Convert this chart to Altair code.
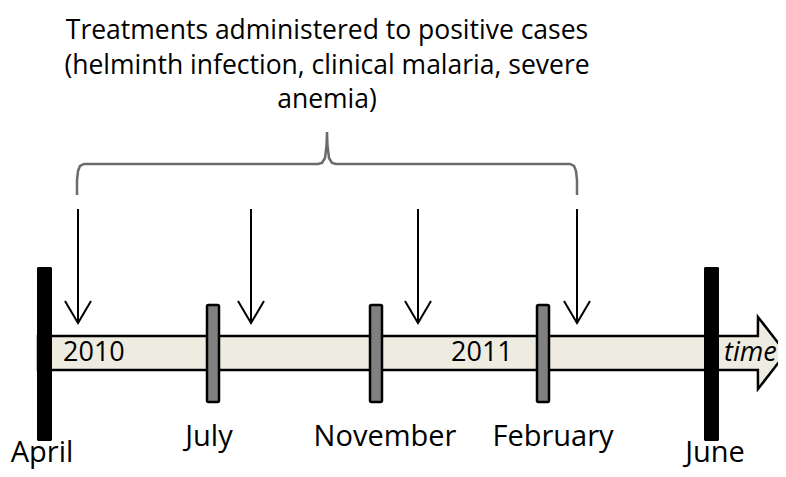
import altair as alt
import pandas as pd

# ---- diagram content ----
title_lines = ["Treatments  administered to positive cases",
               "(helminth infection, clinical malaria, severe",
               "anemia)"]
title_baselines = [39, 74, 108]
title_center = 327

periods = ["April", "July", "November", "February", "June"]
period_x = [44.5, 213, 376, 543, 711.5]
period_kind = ["major", "minor", "minor", "minor", "major"]
label_x = [42, 209, 385, 553, 715]
label_baseline = [462, 446, 446, 446, 462]

treatment_x = [78, 251, 418, 577]

years = ["2010", "2011"]
year_x = [63, 451]

# ---- geometry helpers (pixel-space diagram) ----
W, H = 770, 461
xs = alt.Scale(domain=[8, 8 + W], nice=False, zero=False)
ys = alt.Scale(domain=[8, 8 + H], nice=False, zero=False, reverse=True)

def X(f="x"):
    return alt.X(f"{f}:Q", scale=xs, axis=None)

def Y(f="y"):
    return alt.Y(f"{f}:Q", scale=ys, axis=None)

# brace
brace_pts = [(77, 195), (77, 180), (78, 171), (80, 166), (84, 164), (318, 164),
             (322, 163), (325, 158), (326.5, 146), (327, 132),
             (327.5, 146), (329, 158), (332, 163), (336, 164), (570, 164),
             (574, 166), (576, 171), (577, 180), (577, 195)]
brace_df = pd.DataFrame({"x": [p[0] for p in brace_pts],
                         "y": [p[1] for p in brace_pts],
                         "o": list(range(len(brace_pts)))})
brace = alt.Chart(brace_df).mark_line(color="#6b6b6b", strokeWidth=2.5, clip=False).encode(
    x=X(), y=Y(), order="o:Q")

# treatment arrows
rows = []
for i, tx in enumerate(treatment_x):
    rows += [{"x": tx, "y": 209, "g": f"s{i}", "o": 0}, {"x": tx, "y": 322, "g": f"s{i}", "o": 1}]
    rows += [{"x": tx - 13, "y": 301, "g": f"h{i}", "o": 0},
             {"x": tx, "y": 323, "g": f"h{i}", "o": 1},
             {"x": tx + 13, "y": 301, "g": f"h{i}", "o": 2}]
arrow_df = pd.DataFrame(rows)
arrows = alt.Chart(arrow_df).mark_line(color="black", strokeWidth=2, clip=False).encode(
    x=X(), y=Y(), detail="g:N", order="o:Q")

# time band with arrow head
band_df = pd.DataFrame({"x": [38, 757.9, 758, 786],
                        "y": [336, 336, 317, 353],
                        "y2": [370, 370, 389, 353]})
band = alt.Chart(band_df).mark_area(fill="#EEECE1", stroke="black", strokeWidth=2.5,
                                    clip=False, interpolate="linear").encode(
    x=X(), y=Y(), y2="y2:Q")

# period bars
bar_df = pd.DataFrame({"name": periods, "cx": period_x, "kind": period_kind})
bar_df["x"] = bar_df["cx"] - bar_df["kind"].map({"major": 7.5, "minor": 6})
bar_df["x2"] = bar_df["cx"] + bar_df["kind"].map({"major": 7.5, "minor": 6})
bar_df["y"] = bar_df["kind"].map({"major": 267, "minor": 305})
bar_df["y2"] = bar_df["kind"].map({"major": 441, "minor": 402})
major = alt.Chart(bar_df[bar_df.kind == "major"]).mark_rect(
    color="black", cornerRadius=1.5, clip=False).encode(x=X(), x2="x2:Q", y=Y(), y2="y2:Q")
minor = alt.Chart(bar_df[bar_df.kind == "minor"]).mark_rect(
    fill="#808080", stroke="black", strokeWidth=2.5, cornerRadius=1.5, clip=False).encode(
    x=X(), x2="x2:Q", y=Y(), y2="y2:Q")

FONT = "Open Sans"

title_df = pd.DataFrame({"t": title_lines, "x": [title_center] * 3, "y": title_baselines})
title = alt.Chart(title_df).mark_text(font=FONT, fontSize=26.5, align="center",
                                      baseline="alphabetic", color="black").encode(
    x=X(), y=Y(), text="t:N")

lab_df = pd.DataFrame({"t": periods, "x": label_x, "y": label_baseline})
labels = alt.Chart(lab_df).mark_text(font=FONT, fontSize=29, align="center",
                                     baseline="alphabetic", color="black", clip=False).encode(
    x=X(), y=Y(), text="t:N")

year_df = pd.DataFrame({"t": years, "x": year_x, "y": [361, 361]})
year_text = alt.Chart(year_df).mark_text(font=FONT, fontSize=27, align="left",
                                         baseline="alphabetic", color="black").encode(
    x=X(), y=Y(), text="t:N")

time_df = pd.DataFrame({"t": ["time"], "x": [724], "y": [361]})
time_text = alt.Chart(time_df).mark_text(font=FONT, fontSize=27, fontStyle="italic", align="left",
                                         baseline="alphabetic", color="black", clip=False).encode(
    x=X(), y=Y(), text="t:N")

chart = alt.layer(brace, arrows, band, major, minor, title, labels, year_text, time_text).properties(
    width=W, height=H, padding=0, autosize=alt.AutoSizeParams(type="none"),
    background="white"
).configure_view(stroke=None)

chart.save("out.html", embed_options={"renderer": "svg", "actions": False})
